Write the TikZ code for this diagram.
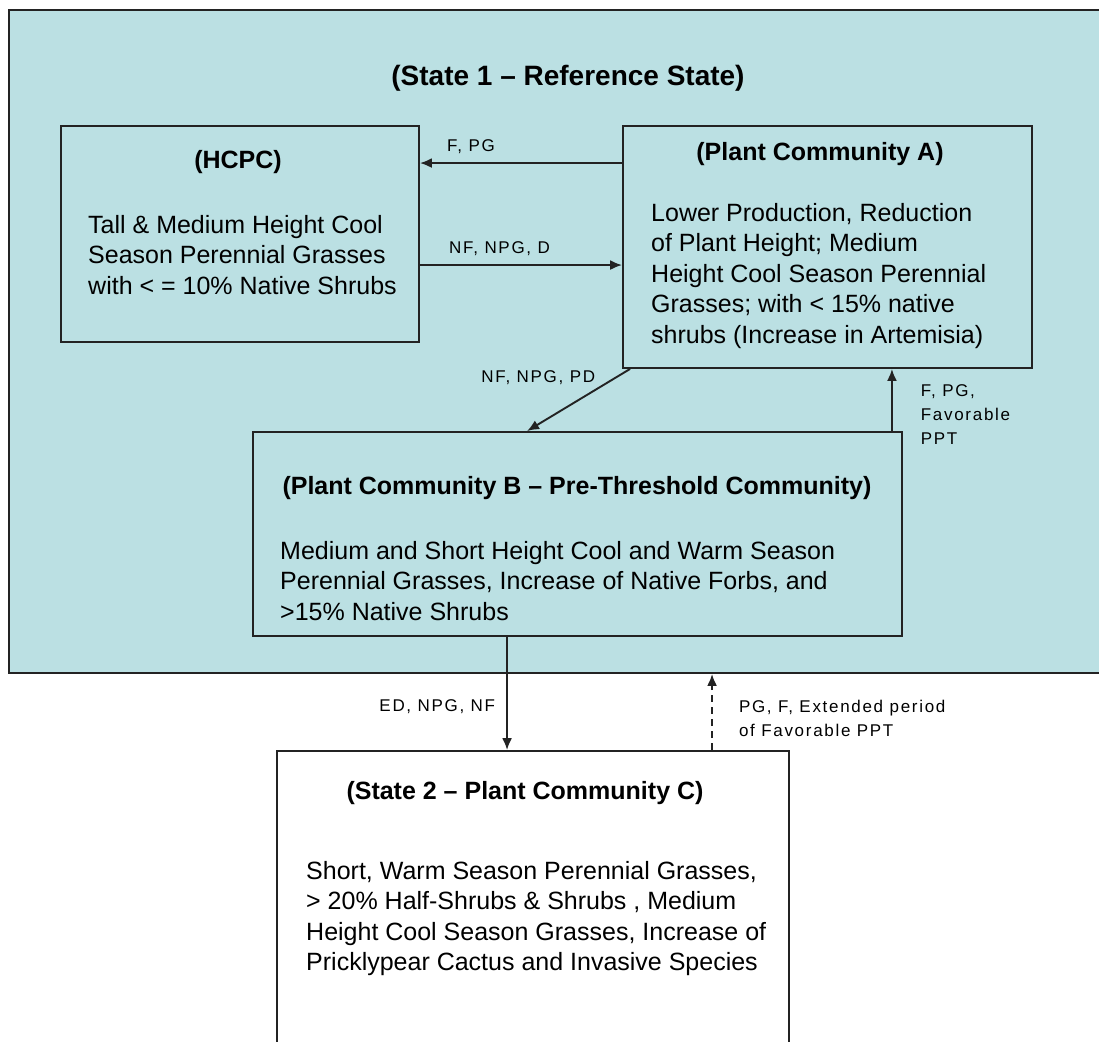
\documentclass[tikz,border=0pt]{standalone}
\usepackage{fontspec}
\setmainfont{Liberation Sans}
\newfontfamily\lblfont[LetterSpace=10]{Liberation Sans}
\usetikzlibrary{arrows.meta,positioning}
\definecolor{statefill}{RGB}{187,224,227}
\definecolor{linegray}{RGB}{35,35,35}
\tikzset{
  commbox/.style={draw=linegray, line width=1.9pt, rectangle, inner sep=0pt},
  boxtitle/.style={font=\bfseries\fontsize{25}{30}\selectfont, inner sep=0pt},
  boxtext/.style={font=\fontsize{25}{30.5}\selectfont, align=left, inner sep=0pt},
  lbl/.style={font=\lblfont\fontsize{17}{24}\selectfont, align=left, inner sep=0pt},
  arr/.style={-{Latex[length=12pt,width=10pt]}, draw=linegray, line width=1.9pt}
}

\begin{document}
\begin{tikzpicture}[x=1pt,y=-1pt]
  \clip (0,0) rectangle (1099,1041);
  % state 1 frame
  \node[commbox, fill=statefill, minimum width=1111pt, minimum height=663pt] (state1) at (564.5,341.5) {};
  \node[boxtitle, font=\bfseries\fontsize{28}{32}\selectfont] (s1title) at (568,78) {(State 1 – Reference State)};
  % communities
  \node[commbox, minimum width=358pt, minimum height=216pt] (hcpc) at (240,234) {};
  \node[boxtitle] (hcpctitle) at (238,162) {(HCPC)};
  \node[boxtext, anchor=north west] (hcpctext) at (88,215) {Tall \& Medium Height Cool\\Season Perennial Grasses\\with < = 10\% Native Shrubs};

  \node[commbox, minimum width=409pt, minimum height=242pt] (pca) at (827.5,247) {};
  \node[boxtitle] (pcatitle) at (820,154) {(Plant Community A)};
  \node[boxtext, anchor=north west] (pcatext) at (651,203) {Lower Production, Reduction\\of Plant Height; Medium\\Height Cool Season Perennial\\Grasses; with < 15\% native\\shrubs (Increase in Artemisia)};

  \node[commbox, minimum width=649pt, minimum height=204pt] (pcb) at (577.5,534) {};
  \node[boxtitle] (pcbtitle) at (577,488) {(Plant Community B – Pre-Threshold Community)};
  \node[boxtext, anchor=north west] (pcbtext) at (280,541) {Medium and Short Height Cool and Warm Season\\Perennial Grasses, Increase of Native Forbs, and\\>15\% Native Shrubs};

  \node[commbox, fill=white, minimum width=512pt, minimum height=329pt] (state2) at (533,915.5) {};
  \node[boxtitle] (s2title) at (525,793) {(State 2 – Plant Community C)};
  \node[boxtext, anchor=north west] (s2text) at (306,861) {Short, Warm Season Perennial Grasses,\\> 20\% Half-Shrubs \& Shrubs , Medium\\Height Cool Season Grasses, Increase of\\Pricklypear Cactus and Invasive Species};

  % transitions
  \draw[arr] ([yshift=-38pt]pca.north west) -- node[lbl, pos=0.87, anchor=south west, yshift=8pt] {F, PG} ([yshift=-38pt]hcpc.north east);
  \draw[arr] ([yshift=-140pt]hcpc.north east) -- node[lbl, pos=0.14, anchor=south west, yshift=8pt] {NF, NPG, D} ([yshift=-140pt]pca.north west);
  \draw[arr] ([xshift=8pt]pca.south west) -- node[lbl, pos=0, anchor=east, xshift=-34pt, yshift=-9pt] {NF, NPG, PD} ([xshift=275pt]pcb.north west);
  \draw[arr] ([xshift=-11pt]pcb.north east) -- node[lbl, pos=0.77, anchor=north west, xshift=28pt] {F, PG,\\Favorable\\PPT} ([xshift=-11pt]pcb.north east |- pca.south);
  \draw[arr] ([xshift=255pt]pcb.south west) -- node[lbl, pos=0.62, anchor=east, xshift=-11pt] {ED, NPG, NF} ([xshift=255pt]pcb.south west |- state2.north);
  \draw[arr, dash pattern=on 7pt off 5pt] ([xshift=436pt]state2.north west) -- node[lbl, pos=0.67, anchor=north west, xshift=26pt] {PG, F, Extended period\\of Favorable PPT} ([xshift=436pt]state2.north west |- state1.south);
\end{tikzpicture}
\end{document}
